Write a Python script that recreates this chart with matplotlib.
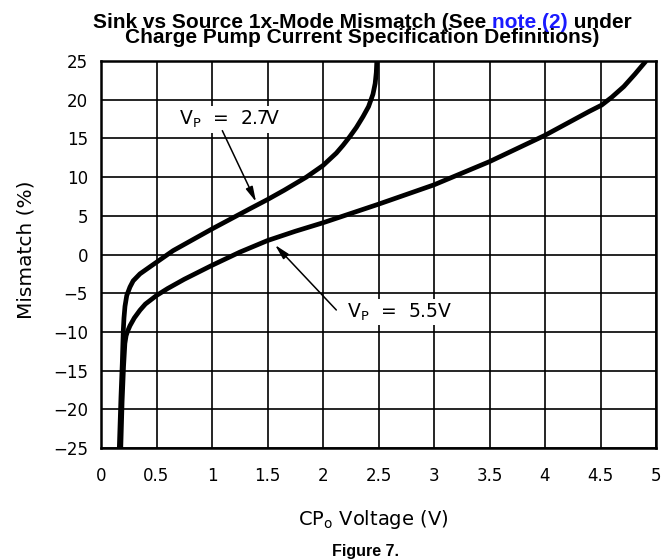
import matplotlib
matplotlib.use("Agg")
import matplotlib.pyplot as plt
import numpy as np

# ---- data ----
v27_x = [0.165, 0.180, 0.192, 0.201, 0.207, 0.216, 0.232, 0.261, 0.29, 0.351, 0.44, 0.50, 0.65,
         1.00, 1.34, 1.50, 1.65, 1.85, 2.00, 2.12, 2.18, 2.24, 2.30, 2.36, 2.41, 2.45, 2.47,
         2.48, 2.485]
v27_y = [-25, -18.4, -14.0, -9.75, -8.2, -6.7, -5.3, -4.2, -3.4, -2.5, -1.6, -1.0, 0.5,
         3.3, 5.9, 7.1, 8.3, 10.0, 11.5, 13.1, 14.1, 15.2, 16.4, 17.8, 19.1, 20.7, 22.1,
         23.5, 25]

v55_x = [0.178, 0.190, 0.203, 0.215, 0.226, 0.24, 0.261, 0.30, 0.351, 0.40, 0.50, 0.60,
         0.75, 1.00, 1.25, 1.50, 1.75, 2.00, 2.25, 2.50, 3.00, 3.50, 4.00, 4.40, 4.51,
         4.60, 4.71, 4.81, 4.91]
v55_y = [-25, -19, -14.5, -11.5, -10.5, -9.9, -9.2, -8.2, -7.2, -6.4, -5.3, -4.4,
         -3.2, -1.4, 0.3, 1.8, 3.0, 4.1, 5.3, 6.5, 9.0, 12.0, 15.4, 18.5, 19.3,
         20.3, 21.7, 23.3, 25]

x_ticks = [0, 0.5, 1, 1.5, 2, 2.5, 3, 3.5, 4, 4.5, 5]
x_ticklabels = ["0", "0.5", "1", "1.5", "2", "2.5", "3", "3.5", "4", "4.5", "5"]
y_ticks = [-25, -20, -15, -10, -5, 0, 5, 10, 15, 20, 25]
y_ticklabels = ["\u221225", "\u221220", "\u221215", "\u221210", "\u22125", "0",
                "5", "10", "15", "20", "25"]

label_27 = "V$_\\mathregular{P}$  =  2.7V"
label_55 = "V$_\\mathregular{P}$  =  5.5V"
title_line1 = ["Sink vs Source 1x-Mode Mismatch (See ", "note (2)", " under"]
title_line2 = "Charge Pump Current Specification Definitions)"

# ---- figure ----
W, H = 667, 559
fig = plt.figure(figsize=(W / 100, H / 100), dpi=100)
ax = fig.add_axes([101 / W, 1 - 448 / H, (656 - 101) / W, (448 - 61) / H])

ax.plot(v27_x, v27_y, color="black", lw=3.4, solid_joinstyle="round",
        solid_capstyle="butt", zorder=3)
ax.plot(v55_x, v55_y, color="black", lw=3.4, solid_joinstyle="round",
        solid_capstyle="butt", zorder=3)

ax.set_xlim(0, 5)
ax.set_ylim(-25, 25)
ax.set_xticks(x_ticks)
ax.set_xticklabels(x_ticklabels)
ax.set_yticks(y_ticks)
ax.set_yticklabels(y_ticklabels)
ax.grid(True, color="black", lw=1.2, zorder=1)
ax.set_axisbelow(True)
for s in ax.spines.values():
    s.set_linewidth(1.8)
    s.set_zorder(4)
ax.tick_params(axis="x", length=0, pad=14.0, labelsize=12)
ax.tick_params(axis="y", length=0, pad=9.4, labelsize=12)

# annotations
ax.text(1.16, 17.5, label_27, fontsize=13.5, ha="center", va="center",
        zorder=5, bbox=dict(fc="white", ec="none", pad=2.0))
ax.annotate("", xy=(1.397, 6.8), xytext=(1.093, 16.0),
            arrowprops=dict(arrowstyle="-|>,head_length=0.9,head_width=0.22",
                            color="black", lw=1.1, shrinkA=0, shrinkB=0),
            zorder=5)
ax.text(2.69, -7.43, label_55, fontsize=13.5, ha="center", va="center",
        zorder=5, bbox=dict(fc="white", ec="none", pad=2.0))
ax.annotate("", xy=(1.568, 1.23), xytext=(2.12, -7.17),
            arrowprops=dict(arrowstyle="-|>,head_length=0.9,head_width=0.22",
                            color="black", lw=1.1, shrinkA=0, shrinkB=0),
            zorder=5)

# axis labels
fig.text(26 / W, 1 - 250 / H, "Mismatch (%)", rotation=90, fontsize=14.5,
         ha="center", va="center")
fig.text(373 / W, 1 - 525 / H, "CP$_\\mathregular{o}$ Voltage (V)", fontsize=14,
         ha="center", va="baseline")
fig.text(365 / W, 1 - 556 / H, "Figure 7.", fontsize=11.5, fontweight="bold",
         family="Liberation Sans", ha="center", va="baseline")

# title (two lines, middle part blue)
tfont = dict(fontsize=15, fontweight="bold", family="Liberation Sans")
cx = 362.5
fig.text(cx / W, 1 - 43 / H, title_line2, ha="center", va="baseline", **tfont)
colors = ["black", "#1a1aff", "black"]
parts = [fig.text(0, 1 - 28 / H, p, ha="left", va="baseline", color=c, **tfont)
         for p, c in zip(title_line1, colors)]
fig.canvas.draw()
r = fig.canvas.get_renderer()
widths = [t.get_window_extent(renderer=r).width for t in parts]
x0 = cx - sum(widths) / 2
for t, w in zip(parts, widths):
    t.set_x(x0 / W)
    x0 += w

fig.savefig("out.png", dpi=100)
